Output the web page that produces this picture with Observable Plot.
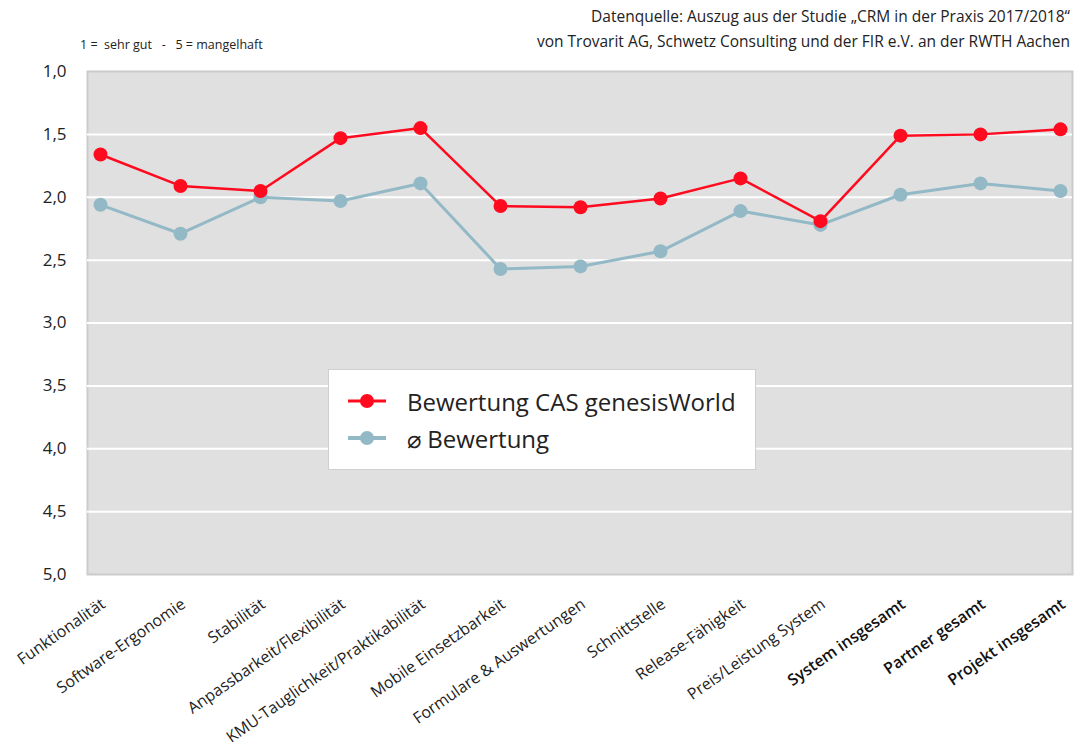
<!DOCTYPE html>
<html>
<head>
<meta charset="utf-8">
<script src="https://cdn.jsdelivr.net/npm/d3@7"></script>
<script src="https://cdn.jsdelivr.net/npm/@observablehq/plot@0.6"></script>
<style>
  html, body { margin: 0; padding: 0; background: #fff; }
  body { width: 1078px; height: 753px; position: relative; overflow: hidden; font-family: "Open Sans", "Noto Sans", sans-serif; color: #222; }
  #chart { position: absolute; left: 0; top: 0; }
  .src { position: absolute; right: 8px; text-align: right; font-size: 15.5px; line-height: 25px; top: 4px; color: #222; }
  .scale { position: absolute; left: 80px; top: 36px; font-size: 12.5px; color: #222; white-space: pre; }
  .legend { position: absolute; left: 328px; top: 369px; width: 426px; height: 99px; background: #fff; border: 1px solid #cfcfcf; }
  .item { position: absolute; left: 18px; height: 30px; display: flex; align-items: center; font-size: 24px; color: #222; }
  .item svg { margin-right: 20px; }
</style>
</head>
<body>
<div id="chart"></div>
<div class="src">Datenquelle: Auszug aus der Studie „CRM in der Praxis 2017/2018“<br>von Trovarit AG, Schwetz Consulting und der FIR e.V. an der RWTH Aachen</div>
<div class="scale">1 =  sehr gut   -   5 = mangelhaft</div>
<div class="legend" id="legend"></div>
<script>
const categories = [
  "Funktionalität", "Software-Ergonomie", "Stabilität", "Anpassbarkeit/Flexibilität",
  "KMU-Tauglichkeit/Praktikabilität", "Mobile Einsetzbarkeit", "Formulare & Auswertungen",
  "Schnittstelle", "Release-Fähigkeit", "Preis/Leistung System", "System insgesamt",
  "Partner gesamt", "Projekt insgesamt"
];
const boldCategories = ["System insgesamt", "Partner gesamt", "Projekt insgesamt"];
const casValues = [1.66, 1.91, 1.95, 1.53, 1.45, 2.07, 2.08, 2.01, 1.85, 2.19, 1.51, 1.50, 1.46];
const avgValues = [2.06, 2.29, 2.00, 2.03, 1.89, 2.57, 2.55, 2.43, 2.11, 2.22, 1.98, 1.89, 1.95];
const seriesNames = ["Bewertung CAS genesisWorld", "⌀ Bewertung"];
const seriesColors = ["#ff0a1e", "#94b9c6"];
const yTicks = [1, 1.5, 2, 2.5, 3, 3.5, 4, 4.5, 5];
const gridTicks = [1.5, 2, 2.5, 3, 3.5, 4, 4.5];

const casData = categories.map((c, i) => ({category: c, value: casValues[i]}));
const avgData = categories.map((c, i) => ({category: c, value: avgValues[i]}));
const normalCats = categories.filter(c => !boldCategories.includes(c));

const chart = Plot.plot({
  width: 1078,
  height: 753,
  marginLeft: 87,
  marginRight: 6,
  marginTop: 71,
  marginBottom: 179,
  style: {fontFamily: "'Open Sans', 'Noto Sans', sans-serif", color: "#222", background: "transparent"},
  x: {type: "point", domain: categories, padding: 0.15, axis: null},
  y: {domain: [1, 5], reverse: true},
  marks: [
    Plot.frame({fill: "#e0e0e0", stroke: "#cbcbcb", strokeWidth: 2}),
    Plot.gridY(gridTicks, {stroke: "#ffffff", strokeOpacity: 1, strokeWidth: 2}),
    Plot.axisY(yTicks, {tickSize: 0, tickPadding: 21, fontSize: 17, tickFormat: d => d.toFixed(1).replace(".", ","), label: null}),
    Plot.lineY(avgData, {x: "category", y: "value", stroke: seriesColors[1], strokeWidth: 3}),
    Plot.dot(avgData, {x: "category", y: "value", fill: seriesColors[1], r: 7}),
    Plot.lineY(casData, {x: "category", y: "value", stroke: seriesColors[0], strokeWidth: 2.5}),
    Plot.dot(casData, {x: "category", y: "value", fill: seriesColors[0], r: 7}),
    Plot.text(normalCats, {x: d => d, frameAnchor: "bottom", dy: 32, dx: 6, rotate: -35, textAnchor: "end", fontSize: 16, fill: "#222"}),
    Plot.text(boldCategories, {x: d => d, frameAnchor: "bottom", dy: 32, dx: 6, rotate: -35, textAnchor: "end", fontSize: 16, fontWeight: 600, fill: "#111"})
  ]
});
document.getElementById("chart").appendChild(chart);

const legend = document.getElementById("legend");
seriesNames.forEach((name, i) => {
  const item = document.createElement("div");
  item.className = "item";
  item.style.top = (i === 0 ? 16 : 53) + "px";
  item.innerHTML = `<svg width="40" height="16"><line x1="1" y1="8" x2="39" y2="8" stroke="${seriesColors[i]}" stroke-width="${i === 0 ? 3 : 4}"/><circle cx="20" cy="8" r="7" fill="${seriesColors[i]}"/></svg><span>${name}</span>`;
  legend.appendChild(item);
});
</script>
</body>
</html>
